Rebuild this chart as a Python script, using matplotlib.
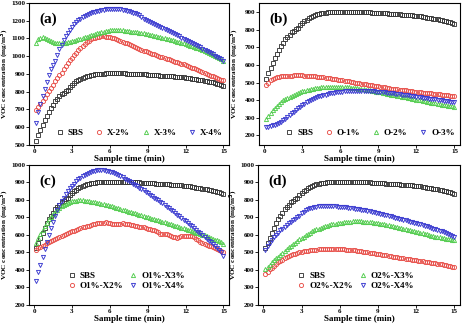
import numpy as np
import matplotlib
matplotlib.use("Agg")
import matplotlib.pyplot as plt

plt.rcParams['font.family'] = ['Liberation Serif', 'DejaVu Serif']
plt.rcParams['font.weight'] = 'bold'

# sampling every 10 s, 0.17 .. 15 min
t = np.arange(1, 91) / 6.0

sbs = [522, 555, 583, 612, 640, 665, 688, 708, 727, 745, 760, 773, 785, 795, 802,
       810, 825, 840, 850, 858, 866, 873, 879, 884, 888, 891, 894, 896, 898, 899,
       900, 901, 902, 903, 903, 904, 904, 904, 904, 904, 903, 903,
       903, 902, 902, 901, 901, 900, 900, 899, 898, 898, 897, 896,
       895, 895, 894, 893, 892, 891, 891, 890, 889, 888, 887, 886,
       885, 884, 883, 882, 880, 879, 877, 876, 874, 872, 870, 868,
       866, 864, 862, 860, 857, 855, 852, 849, 846, 842, 838, 833]

# (a) X series
x2 = [695, 712, 730, 748, 765, 785, 805, 822, 840, 858, 875, 892, 908, 925, 945,
      962, 978, 992, 1005, 1020, 1035, 1048, 1060, 1070, 1080, 1088, 1095, 1100, 1104, 1107,
      1110, 1111, 1111, 1110, 1108, 1106, 1103, 1100, 1096, 1092, 1087, 1082,
      1077, 1072, 1067, 1062, 1057, 1052, 1047, 1042, 1037, 1032, 1027, 1022,
      1018, 1014, 1010, 1006, 1002, 998, 994, 990, 986, 982, 978, 974,
      970, 966, 962, 958, 954, 950, 945, 941, 936, 931, 926, 921,
      916, 911, 906, 901, 896, 891, 886, 881, 876, 872, 868, 864]
x3 = [1075, 1098, 1105, 1106, 1103, 1098, 1090, 1083, 1078, 1074, 1072, 1072, 1073, 1074, 1076,
      1078, 1080, 1083, 1086, 1090, 1094, 1098, 1102, 1106, 1110, 1114, 1118, 1122, 1126, 1130,
      1133, 1136, 1139, 1141, 1143, 1145, 1146, 1147, 1147, 1147, 1146, 1145,
      1144, 1142, 1140, 1139, 1138, 1137, 1135, 1133, 1131, 1129, 1127, 1125,
      1122, 1119, 1116, 1113, 1110, 1107, 1104, 1101, 1098, 1095, 1092, 1089,
      1086, 1082, 1079, 1075, 1072, 1068, 1064, 1060, 1056, 1052, 1048, 1044,
      1039, 1035, 1030, 1025, 1020, 1015, 1009, 1003, 997, 990, 982, 972]
x4 = [622, 688, 730, 775, 815, 855, 895, 925, 950, 975, 1005, 1040, 1065, 1090, 1112,
      1130, 1148, 1165, 1180, 1192, 1203, 1212, 1220, 1227, 1233, 1238, 1243, 1247, 1251, 1254,
      1257, 1259, 1261, 1263, 1264, 1265, 1266, 1266, 1266, 1265, 1264, 1262,
      1260, 1257, 1254, 1250, 1246, 1242, 1238, 1230, 1218, 1210, 1204, 1199,
      1193, 1188, 1182, 1176, 1171, 1165, 1159, 1153, 1147, 1141, 1135, 1129,
      1123, 1117, 1111, 1105, 1099, 1093, 1087, 1081, 1074, 1068, 1062, 1055,
      1049, 1042, 1036, 1030, 1023, 1017, 1010, 1003, 996, 989, 982, 975]

# (b) O series
o1 = [485, 500, 512, 520, 526, 530, 533, 535, 537, 538, 539, 540, 540, 541, 541,
      541, 541, 541, 540, 540, 539, 538, 537, 536, 534, 533, 531, 530, 528, 526,
      524, 522, 520, 518, 516, 514, 512, 510, 508, 506, 504, 502,
      500, 498, 496, 494, 492, 490, 488, 486, 484, 482, 480, 478,
      476, 474, 472, 470, 468, 466, 465, 463, 461, 459, 458, 456,
      455, 453, 452, 450, 449, 447, 446, 445, 443, 442, 441, 439,
      438, 437, 435, 434, 433, 431, 430, 429, 428, 426, 425, 424]
o2 = [292, 310, 327, 342, 356, 368, 379, 389, 398, 406, 413, 420, 426, 432, 437,
      442, 446, 450, 454, 457, 460, 463, 465, 467, 469, 471, 472, 473, 474, 475,
      476, 476, 476, 476, 476, 475, 475, 474, 473, 472, 471, 470,
      468, 467, 465, 463, 461, 459, 457, 455, 453, 451, 449, 447,
      445, 442, 440, 437, 435, 432, 430, 427, 425, 422, 420, 417,
      415, 412, 410, 407, 405, 402, 400, 398, 395, 393, 391, 388,
      386, 384, 381, 379, 377, 375, 373, 371, 369, 367, 365, 363]
o3 = [245, 248, 252, 256, 260, 265, 271, 278, 286, 295, 305, 315, 325, 335, 345,
      354, 363, 372, 380, 388, 395, 401, 407, 412, 417, 421, 425, 429, 432, 435,
      438, 440, 442, 444, 446, 448, 449, 450, 451, 452, 453, 453,
      454, 454, 454, 454, 454, 453, 453, 452, 451, 450, 449, 448,
      447, 446, 444, 443, 441, 440, 438, 437, 435, 433, 432, 430,
      428, 427, 425, 423, 421, 420, 418, 416, 414, 413, 411, 409,
      407, 405, 404, 402, 400, 398, 397, 395, 393, 391, 390, 388]

# (c) O1%-X series
o1x2 = [515, 522, 530, 537, 544, 551, 558, 565, 571, 577, 583, 589, 594, 599, 604,
        609, 614, 619, 624, 629, 634, 639, 643, 647, 650, 653, 656, 659, 662, 665,
        667, 669, 670, 671, 670, 667, 663, 660, 659, 661, 664, 665,
        664, 662, 660, 658, 656, 653, 650, 647, 645, 642, 639, 636,
        633, 629, 625, 620, 614, 607, 604, 607, 606, 600, 594, 589,
        585, 584, 587, 592, 595, 596, 595, 594, 592, 586, 578, 568,
        560, 553, 547, 542, 538, 534, 530, 525, 520, 514, 508, 500]
o1x3 = [555, 580, 605, 628, 650, 670, 688, 704, 718, 731, 743, 753, 762, 770, 777,
        783, 788, 791, 794, 795, 796, 796, 796, 795, 794, 792, 790, 788, 786, 783,
        780, 777, 774, 771, 768, 765, 762, 758, 755, 751, 748, 744,
        741, 737, 733, 730, 726, 722, 719, 715, 711, 708, 704, 700,
        697, 693, 689, 686, 682, 678, 675, 671, 667, 664, 660, 656,
        653, 649, 645, 641, 637, 633, 629, 625, 621, 617, 613, 609,
        605, 601, 597, 592, 588, 583, 578, 573, 568, 563, 557, 550]
o1x4 = [335, 385, 430, 475, 520, 560, 600, 640, 675, 708, 740, 768, 792, 813, 832,
        850, 866, 880, 893, 905, 916, 926, 935, 942, 948, 954, 959, 963, 966, 968,
        970, 970, 969, 967, 964, 960, 956, 951, 946, 940, 934, 928,
        921, 914, 907, 900, 893, 886, 878, 870, 862, 854, 846, 838,
        830, 822, 813, 805, 797, 788, 779, 770, 761, 752, 743, 734,
        724, 715, 706, 696, 687, 677, 668, 658, 648, 638, 628, 618,
        608, 598, 588, 577, 567, 557, 548, 538, 527, 515, 500, 480]

# (d) O2%-X series
o2x2 = [378, 390, 402, 413, 424, 434, 443, 451, 459, 466, 472, 478, 483, 488, 492,
        496, 500, 503, 506, 508, 510, 512, 514, 515, 516, 517, 518, 519, 519, 520,
        520, 520, 520, 520, 519, 519, 518, 517, 516, 515, 514, 512,
        511, 509, 507, 505, 504, 502, 500, 498, 496, 494, 492, 490,
        488, 486, 484, 482, 480, 478, 476, 474, 472, 470, 468, 466,
        464, 462, 460, 458, 456, 455, 453, 451, 449, 447, 445, 443,
        441, 439, 437, 435, 433, 431, 428, 426, 423, 421, 418, 415]
o2x3 = [405, 418, 430, 442, 454, 465, 476, 487, 498, 508, 518, 528, 538, 547, 556,
        565, 574, 582, 590, 598, 605, 612, 619, 625, 631, 636, 641, 645, 649, 653,
        656, 659, 662, 664, 666, 668, 670, 671, 672, 673, 675, 678,
        681, 680, 678, 677, 676, 675, 674, 673, 671, 670, 668, 666,
        664, 662, 660, 657, 655, 652, 650, 647, 644, 641, 638, 635,
        632, 629, 626, 623, 620, 617, 614, 611, 608, 605, 602, 599,
        596, 593, 590, 588, 585, 583, 580, 578, 576, 574, 572, 570]
o2x4 = [515, 535, 553, 570, 586, 600, 613, 625, 636, 646, 656, 665, 674, 683, 692,
        700, 710, 722, 732, 740, 746, 751, 755, 758, 761, 763, 765, 766, 766, 766,
        765, 764, 763, 762, 761, 760, 759, 757, 756, 754, 753, 751,
        749, 747, 745, 743, 741, 739, 736, 734, 731, 729, 726, 723,
        720, 717, 714, 711, 708, 705, 702, 698, 695, 692, 689, 685,
        682, 679, 676, 673, 670, 667, 663, 660, 656, 652, 648, 644,
        640, 636, 632, 628, 623, 619, 614, 609, 604, 599, 594, 588]

styles = [('s', '#3a3a3a'), ('o', '#e8504a'), ('^', '#52cc4e'), ('v', '#3a3ad0')]

panels = [
    ('(a)', [sbs, x2, x3, x4], ['SBS', 'X-2%', 'X-3%', 'X-4%'], (500, 1300), range(500, 1301, 100)),
    ('(b)', [sbs, o1, o2, o3], ['SBS', 'O-1%', 'O-2%', 'O-3%'], (145, 953), range(200, 901, 100)),
    ('(c)', [sbs, o1x2, o1x3, o1x4], ['SBS', 'O1%-X2%', 'O1%-X3%', 'O1%-X4%'], (200, 1000), range(200, 1001, 100)),
    ('(d)', [sbs, o2x2, o2x3, o2x4], ['SBS', 'O2%-X2%', 'O2%-X3%', 'O2%-X4%'], (200, 1000), range(200, 1001, 100)),
]

rects = [[0.063, 0.554, 0.433, 0.437],
         [0.561, 0.554, 0.435, 0.437],
         [0.063, 0.062, 0.433, 0.431],
         [0.559, 0.062, 0.437, 0.431]]

fig = plt.figure(figsize=(4.62, 3.25), dpi=100)

for i, (tag, series, names, ylim, yt) in enumerate(panels):
    ax = fig.add_axes(rects[i])
    for (m, c), y, name in zip(styles, series, names):
        ax.plot(t, y, linestyle='none', marker=m, markersize=3.0,
                markerfacecolor='none', markeredgecolor=c, markeredgewidth=0.65,
                label=name)
    ax.set_xlim(-0.4, 15.45)
    ax.set_ylim(*ylim)
    ax.set_xticks([0, 3, 6, 9, 12, 15])
    ax.set_yticks(list(yt))
    ax.tick_params(direction='out', length=2, width=0.6, labelsize=5, pad=1.0)
    for lab in ax.get_xticklabels() + ax.get_yticklabels():
        lab.set_fontweight('bold')
    for sp in ax.spines.values():
        sp.set_linewidth(0.8)
    ax.set_xlabel('Sample time (min)', fontsize=6.5, fontweight='bold', labelpad=0.5)
    ax.set_ylabel('VOC concentration (mg/m$^\\mathbf{3}$)', fontsize=5.2,
                  fontweight='bold', va='center')
    # keep the y title at the same distance from the frame in every panel
    ax.yaxis.set_label_coords(-24.5 / (rects[i][2] * 462), 0.5)
    ax.text(0.05, 0.93, tag, transform=ax.transAxes, fontsize=11, fontweight='bold', va='top')

    if i < 2:
        ax.legend(loc='lower center', bbox_to_anchor=(0.55, 0.0), ncol=4, frameon=False,
                  prop={'size': 6.5, 'weight': 'bold'}, handlelength=1.0,
                  handletextpad=0.4, columnspacing=1.2, markerscale=1.0)
    else:
        ax.legend(loc='lower left', bbox_to_anchor=(0.15, 0.05), ncol=2, frameon=False,
                  prop={'size': 6.5, 'weight': 'bold'}, handlelength=1.0,
                  handletextpad=0.4, columnspacing=0.6, labelspacing=0.15)

fig.savefig('out.png', dpi=100)
